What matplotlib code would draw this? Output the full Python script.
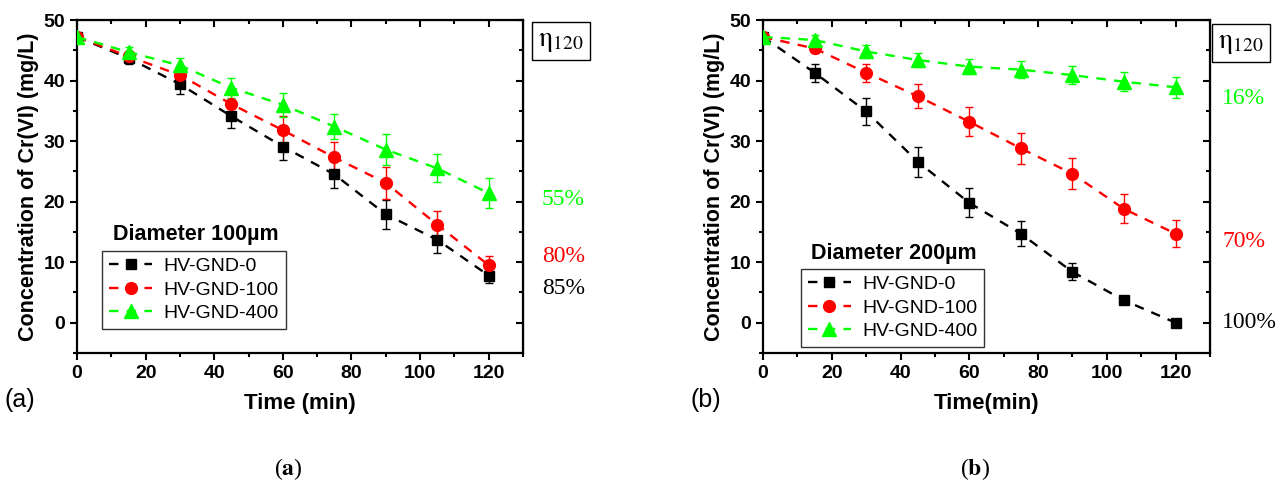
import numpy as np
import matplotlib
matplotlib.use('Agg')
from matplotlib import pyplot as plt

plt.rcParams['font.family'] = ['Liberation Sans', 'DejaVu Sans']
plt.rcParams['mathtext.fontset'] = 'stix'

time = [0, 15, 30, 45, 60, 75, 90, 105, 120]
series_names = ['HV-GND-0', 'HV-GND-100', 'HV-GND-400']

# (a) diameter 100um
a_gnd0 = [47.2, 43.7, 39.4, 34.1, 29.1, 24.5, 17.9, 13.7, 7.8]
a_gnd0_err = [0.3, 0.9, 1.7, 2.0, 2.2, 2.3, 2.4, 2.1, 1.2]
a_gnd100 = [47.2, 44.0, 40.9, 36.1, 31.8, 27.3, 23.1, 16.2, 9.5]
a_gnd100_err = [0.3, 0.8, 1.5, 1.8, 2.3, 2.5, 2.6, 2.2, 1.5]
a_gnd400 = [47.2, 44.7, 42.5, 38.8, 36.0, 32.4, 28.6, 25.5, 21.4]
a_gnd400_err = [0.3, 0.8, 1.2, 1.6, 2.0, 2.1, 2.5, 2.3, 2.5]
a_eta = ['85%', '80%', '55%']
a_eta_y = [5.6, 11.0, 20.3]

# (b) diameter 200um
b_gnd0 = [47.2, 41.3, 34.9, 26.6, 19.8, 14.7, 8.4, 3.7, 0.0]
b_gnd0_err = [0.3, 1.5, 2.2, 2.5, 2.4, 2.1, 1.4, 0.3, 0.2]
b_gnd100 = [47.2, 45.3, 41.3, 37.4, 33.2, 28.8, 24.6, 18.8, 14.7]
b_gnd100_err = [0.3, 0.7, 1.5, 2.0, 2.4, 2.5, 2.55, 2.4, 2.2]
b_gnd400 = [47.2, 46.7, 44.8, 43.4, 42.3, 41.8, 40.9, 39.8, 38.9]
b_gnd400_err = [0.3, 0.8, 1.0, 1.2, 1.3, 1.4, 1.5, 1.6, 1.7]
b_eta = ['100%', '70%', '16%']
b_eta_y = [0.0, 13.4, 37.0]

colors = ['black', 'red', '#00ff00']
markers = ['s', 'o', '^']
msizes = [7, 8.5, 9.5]

fig = plt.figure(figsize=(12.8, 4.82), dpi=100)
ax_a = fig.add_axes([0.0602, 0.2676, 0.3484, 0.6909])
ax_b = fig.add_axes([0.5961, 0.2676, 0.3492, 0.6909])


def draw_panel(ax, ys, errs, title, leg_x, leg_y, etas, eta_y, eta_x, xlabel):
    handles = []
    for y, e, c, m, ms in zip(ys, errs, colors, markers, msizes):
        ax.errorbar(time, y, yerr=e, fmt='none', ecolor=c, elinewidth=1,
                    capsize=3, capthick=1, zorder=2)
        h, = ax.plot(time, y, color=c, ls=(0, (4, 3.5)), lw=1.7,
                     marker=m, ms=ms, zorder=3)
        handles.append(h)
    ax.set_xlim(0, 130)
    ax.set_ylim(-5, 50)
    ax.set_xticks(range(0, 121, 20))
    ax.set_xticks(range(10, 131, 20), minor=True)
    ax.set_yticks(range(0, 51, 10))
    ax.set_yticks(range(-5, 50, 10), minor=True)
    ax.tick_params(which='major', direction='out', length=5, width=1.5,
                   labelsize=14)
    ax.tick_params(which='minor', direction='out', length=3, width=1.5)
    for lab in ax.get_xticklabels() + ax.get_yticklabels():
        lab.set_fontweight('bold')
    for s in ax.spines.values():
        s.set_linewidth(1.6)
    top = ax.secondary_xaxis('top')
    top.set_xticks(range(0, 121, 20))
    top.set_xticks(range(10, 131, 20), minor=True)
    top.tick_params(which='major', direction='in', length=5, width=1.5,
                    labeltop=False)
    top.tick_params(which='minor', direction='in', length=3, width=1.5)
    right = ax.secondary_yaxis('right')
    right.set_yticks(range(0, 51, 10))
    right.set_yticks(range(-5, 50, 10), minor=True)
    right.tick_params(which='major', direction='in', length=5, width=1.5,
                      labelright=False)
    right.tick_params(which='minor', direction='in', length=3, width=1.5)

    ax.set_xlabel(xlabel, fontsize=16, fontweight='bold', labelpad=8)
    ax.set_ylabel('Concentration of Cr(VI) (mg/L)', fontsize=15.5,
                  fontweight='bold', labelpad=3)

    leg = ax.legend(handles, series_names, loc='upper left',
                    bbox_to_anchor=(leg_x, leg_y),
                    bbox_transform=ax.transData, fontsize=14,
                    frameon=True, fancybox=False, edgecolor='black',
                    handlelength=2.2, handletextpad=0.6, labelspacing=0.3,
                    borderpad=0.35, borderaxespad=0)
    leg.get_frame().set_linewidth(1.0)
    ax.text(leg_x + 3, leg_y + 2.6, title, fontsize=15.5, fontweight='bold',
            ha='left', va='center')

    for t, yv, c in zip(etas, eta_y, colors):
        ax.text(eta_x, yv, t, color=c, fontsize=17, family='Liberation Serif',
                ha='left', va='center', clip_on=False)


draw_panel(ax_a, [a_gnd0, a_gnd100, a_gnd400],
           [a_gnd0_err, a_gnd100_err, a_gnd400_err],
           'Diameter 100\u00b5m', 7.4, 11.9, a_eta, a_eta_y, 135.5,
           'Time (min)')
draw_panel(ax_b, [b_gnd0, b_gnd100, b_gnd400],
           [b_gnd0_err, b_gnd100_err, b_gnd400_err],
           'Diameter 200\u00b5m', 11.1, 8.9, b_eta, b_eta_y, 133.5,
           'Time(min)')

for xc, yc in [(561, 41), (1241, 43)]:
    fig.text(xc / 1280, 1 - yc / 482, r'$\mathrm{\eta}_{\mathrm{120}}$',
             fontsize=20, ha='center', va='center',
             bbox=dict(boxstyle='square,pad=0.22', fc='white', ec='black',
                       lw=1.0))

fig.text(5 / 1280, 1 - 400 / 482, '(a)', fontsize=18, ha='left', va='center')
fig.text(691 / 1280, 1 - 400 / 482, '(b)', fontsize=18, ha='left',
         va='center')
fig.text(288 / 1280, 1 - 469 / 482, r'($\mathbf{a}$)', fontsize=17,
         family='Liberation Serif', ha='center', va='center')
fig.text(975 / 1280, 1 - 469 / 482, r'($\mathbf{b}$)', fontsize=17,
         family='Liberation Serif', ha='center', va='center')

fig.savefig('out.png', dpi=100)
